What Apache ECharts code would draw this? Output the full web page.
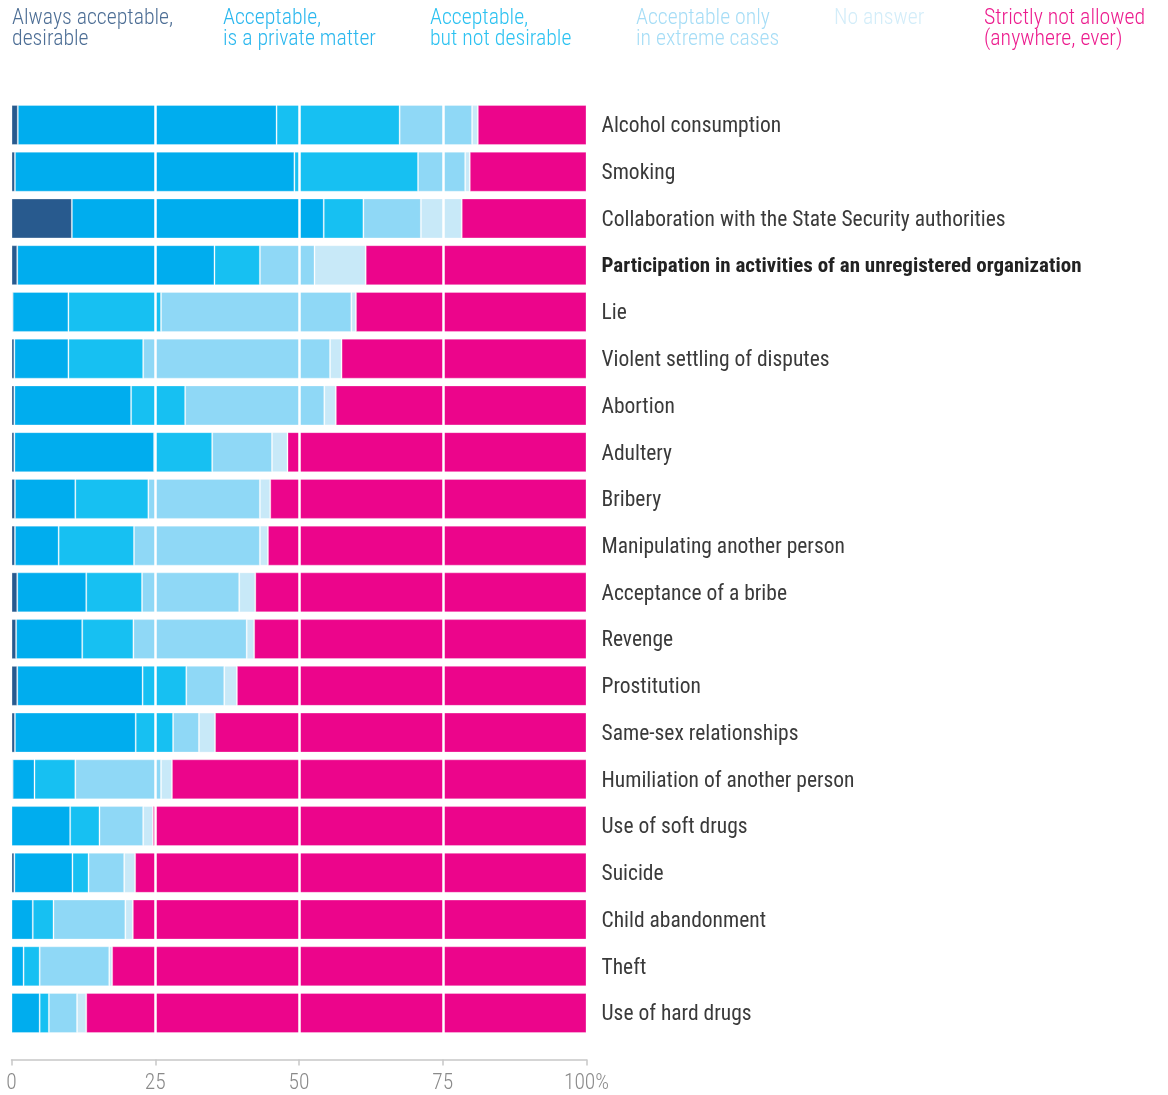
<!DOCTYPE html>
<html>
<head>
<meta charset="utf-8">
<script src="https://cdn.jsdelivr.net/npm/echarts@6/dist/echarts.min.js"></script>
<style>
html,body{margin:0;padding:0;background:#fff;}
#chart{width:1168px;height:1095px;}
</style>
</head>
<body>
<div id="chart"></div>
<script>
const categories = [
  "Alcohol consumption",
  "Smoking",
  "Collaboration with the State Security authorities",
  "Participation in activities of an unregistered organization",
  "Lie",
  "Violent settling of disputes",
  "Abortion",
  "Adultery",
  "Bribery",
  "Manipulating another person",
  "Acceptance of a bribe",
  "Revenge",
  "Prostitution",
  "Same-sex relationships",
  "Humiliation of another person",
  "Use of soft drugs",
  "Suicide",
  "Child abandonment",
  "Theft",
  "Use of hard drugs"
];
const boldCategory = "Participation in activities of an unregistered organization";

const seriesNames = [
  "Always acceptable,\ndesirable",
  "Acceptable,\nis a private matter",
  "Acceptable,\nbut not desirable",
  "Acceptable only\nin extreme cases",
  "No answer",
  "Strictly not allowed\n(anywhere, ever)"
];

const alwaysAcceptable = [1.1, 0.6, 10.5, 1.0, 0.2, 0.5, 0.5, 0.5, 0.6, 0.6, 1.0, 0.8, 1.0, 0.6, 0.2, 0, 0.5, 0, 0, 0];
const privateMatter    = [45.0, 48.6, 43.8, 34.3, 9.7, 9.4, 20.3, 24.3, 10.5, 7.6, 12.0, 11.5, 21.8, 21.0, 3.8, 10.2, 10.1, 3.7, 2.1, 4.9];
const notDesirable     = [21.4, 21.5, 6.9, 7.9, 16.1, 13.0, 9.4, 10.1, 12.7, 13.1, 9.7, 8.9, 7.6, 6.5, 7.1, 5.1, 2.8, 3.6, 2.8, 1.6];
const extremeCases     = [12.6, 8.2, 10.0, 9.5, 33.1, 32.5, 24.2, 10.4, 19.4, 21.9, 16.9, 19.7, 6.6, 4.5, 14.9, 7.6, 6.2, 12.5, 12.1, 4.9];
const noAnswer         = [1.0, 0.8, 7.1, 8.9, 0.8, 2.0, 2.0, 2.7, 1.8, 1.4, 2.8, 1.3, 2.2, 2.8, 1.9, 1.7, 1.9, 1.3, 0.5, 1.6];
const strictlyNot      = [18.9, 20.3, 21.7, 38.4, 40.1, 42.6, 43.6, 52.0, 55.0, 55.4, 57.6, 57.8, 60.8, 64.6, 72.1, 75.4, 78.5, 78.9, 82.5, 87.0];

const xTicks = [0, 25, 50, 75, 100];

const seriesValues = [alwaysAcceptable, privateMatter, notDesirable, extremeCases, noAnswer, strictlyNot];
const barColors = ["#285A8E", "#00ADEE", "#17C0F2", "#8FD8F6", "#C8E9F8", "#EC058B"];
const legendColors = ["#4D6E95", "#2AB7EE", "#2CC2F1", "#A6DDF6", "#D3EDF9", "#EC1C8E"];
const legendX = [12, 223, 430, 636, 834, 984];

const FONT = "'Roboto Condensed', 'Liberation Sans Narrow', 'Roboto', sans-serif";

const chart = echarts.init(document.getElementById('chart'), null, {renderer: 'canvas'});

const series = seriesValues.map((vals, i) => {
  const s = {
    name: seriesNames[i],
    type: 'bar',
    stack: 'total',
    barWidth: 40,
    data: vals,
    itemStyle: {color: barColors[i], borderColor: 'rgba(255,255,255,0.3)', borderWidth: 1},
    emphasis: {disabled: true},
    z: 2
  };
  if (i === seriesValues.length - 1) {
    s.z = 3;
    s.markLine = {
      silent: true,
      symbol: ['none', 'none'],
      label: {show: false},
      lineStyle: {color: '#ffffff', width: 2.5, type: 'solid'},
      data: xTicks.filter(t => t > 0 && t < 100).map(t => ({xAxis: t}))
    };
  }
  return s;
});

const graphic = seriesNames.map((n, i) => ({
  type: 'text',
  left: legendX[i],
  top: 8,
  style: {
    text: n,
    fill: legendColors[i],
    font: '300 21.8px ' + FONT,
    lineHeight: 21
  }
}));

chart.setOption({
  animation: false,
  backgroundColor: '#fff',
  grid: {left: 11.5, right: 581.5, top: 101.6, height: 934.8, containLabel: false},
  xAxis: {
    type: 'value',
    min: 0,
    max: 100,
    interval: 25,
    offset: 23,
    axisLine: {show: true, lineStyle: {color: '#c8c8c8', width: 1.5}},
    axisTick: {show: true, length: 6, lineStyle: {color: '#c8c8c8', width: 1.5}},
    splitLine: {show: false},
    axisLabel: {
      color: '#8a8a8a',
      fontSize: 21.5,
      fontWeight: 300,
      fontFamily: FONT,
      margin: 13,
      formatter: v => v === 100 ? '100%' : String(v)
    }
  },
  yAxis: {
    type: 'category',
    data: categories,
    inverse: true,
    position: 'right',
    axisLine: {show: false},
    axisTick: {show: false},
    splitLine: {show: false},
    axisLabel: {
      margin: 15,
      align: 'left',
      color: '#3a3a3a',
      fontSize: 21.5,
      fontWeight: 'normal',
      fontFamily: FONT,
      padding: [4, 0, 0, 0],
      formatter: v => v === boldCategory ? '{b|' + v + '}' : v,
      rich: {
        b: {fontWeight: 'bold', color: '#222', fontSize: 21, fontFamily: FONT}
      }
    }
  },
  series: series,
  graphic: graphic
});
</script>
</body>
</html>
